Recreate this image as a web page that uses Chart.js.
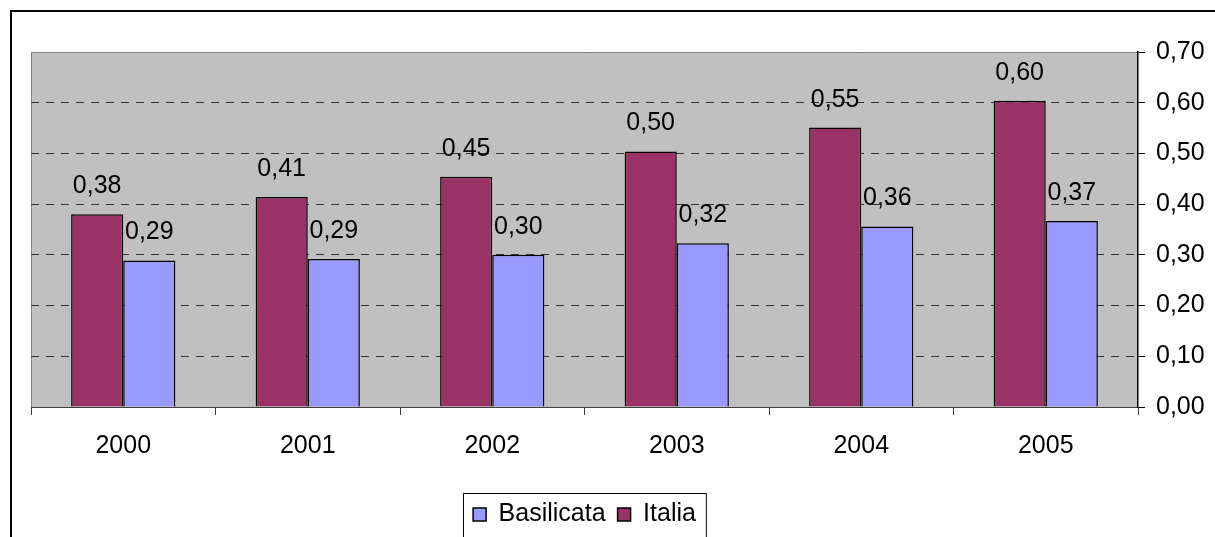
<!DOCTYPE html>
<html>
<head>
<meta charset="utf-8">
<script src="https://cdn.jsdelivr.net/npm/chart.js@4/dist/chart.umd.min.js"></script>
<style>
  html, body { margin: 0; padding: 0; background: #fff; }
  canvas { display: block; }
</style>
</head>
<body>
<canvas id="grafico" width="1215" height="537"></canvas>
<script>
var anni = ['2000', '2001', '2002', '2003', '2004', '2005'];
var italia = [0.380, 0.414, 0.454, 0.504, 0.551, 0.604];
var basilicata = [0.289, 0.292, 0.300, 0.323, 0.356, 0.367];
var yMin = 0, yMax = 0.7, yStep = 0.1;

var FONT = '"Liberation Sans", Arial, sans-serif';

function virgola(v) {
  return v.toFixed(2).replace('.', ',');
}

// sfondo grigio dell'area del grafico + cornice esterna
var sfondo = {
  id: 'sfondo',
  beforeDraw: function(chart) {
    var ctx = chart.ctx, a = chart.chartArea;
    ctx.save();
    ctx.fillStyle = '#C0C0C0';
    ctx.fillRect(a.left, a.top, a.right - a.left, a.bottom - a.top);
    ctx.strokeStyle = '#808080';
    ctx.lineWidth = 1;
    ctx.beginPath();
    ctx.moveTo(a.left + 0.5, a.bottom);
    ctx.lineTo(a.left + 0.5, a.top + 0.5);
    ctx.lineTo(a.right, a.top + 0.5);
    ctx.stroke();
    ctx.strokeStyle = '#000';
    ctx.lineWidth = 2;
    ctx.beginPath();
    ctx.moveTo(11, 540);
    ctx.lineTo(11, 11);
    ctx.lineTo(1220, 11);
    ctx.stroke();
    ctx.restore();
  }
};

// etichette dei valori sopra le barre
var etichette = {
  id: 'etichette',
  afterDatasetsDraw: function(chart) {
    var ctx = chart.ctx;
    ctx.save();
    ctx.font = '25px ' + FONT;
    ctx.fillStyle = '#000';
    ctx.textAlign = 'center';
    ctx.textBaseline = 'alphabetic';
    chart.data.datasets.forEach(function(ds, i) {
      chart.getDatasetMeta(i).data.forEach(function(bar, j) {
        ctx.fillText(virgola(ds.data[j]), bar.x, bar.y - 21);
      });
    });
    ctx.restore();
  }
};

// legenda centrata sotto l'area del grafico, con cornice
var cornice = {
  id: 'cornice',
  afterLayout: function(chart) {
    var lg = chart.legend;
    var a = chart.chartArea;
    var shift = (a.left + a.right) / 2 - (lg.left + lg.right) / 2;
    lg.left += shift;
    lg.right += shift;
  },
  afterDraw: function(chart) {
    var hb = chart.legend.legendHitBoxes;
    if (!hb || !hb.length) return;
    var ctx = chart.ctx;
    var first = hb[0], last = hb[hb.length - 1];
    var cy = first.top + first.height / 2;
    var left = first.left - 10, right = last.left + last.width + 10;
    var top = Math.round(cy - 22) + 0.5;
    ctx.save();
    ctx.strokeStyle = '#000';
    ctx.lineWidth = 1;
    ctx.strokeRect(Math.round(left) + 0.5, top, right - left, 560 - top);
    ctx.restore();
  }
};

new Chart(document.getElementById('grafico'), {
  type: 'bar',
  data: {
    labels: anni,
    datasets: [{
      label: 'Italia',
      data: italia,
      backgroundColor: '#993366',
      borderColor: '#000',
      borderWidth: 1.5
    }, {
      label: 'Basilicata',
      data: basilicata,
      backgroundColor: '#9999FF',
      borderColor: '#000',
      borderWidth: 1.5
    }]
  },
  options: {
    responsive: false,
    animation: false,
    devicePixelRatio: 1,
    layout: { padding: { left: 31, right: 7, top: 52, bottom: 0 } },
    datasets: {
      bar: { categoryPercentage: 0.565, barPercentage: 1 }
    },
    plugins: {
      tooltip: { enabled: false },
      legend: {
        position: 'bottom',
        reverse: true,
        labels: {
          boxWidth: 13,
          boxHeight: 13,
          padding: 12,
          color: '#000',
          font: { size: 25, family: FONT }
        }
      }
    },
    scales: {
      x: {
        afterFit: function(scale) { scale.height += 13; },
        grid: {
          display: true,
          offset: true,
          drawOnChartArea: false,
          color: '#404040',
          tickLength: 8
        },
        border: { display: true, color: '#404040', width: 1 },
        ticks: {
          color: '#000',
          padding: 16,
          font: { size: 25, family: FONT }
        }
      },
      y: {
        position: 'right',
        min: yMin,
        max: yMax,
        afterFit: function(scale) { scale.width = 70; },
        ticks: {
          stepSize: yStep,
          color: '#000',
          padding: 11,
          font: { size: 25, family: FONT },
          callback: function(v) { return virgola(v); }
        },
        grid: {
          color: function(c) {
            var v = c.tick ? c.tick.value : 0;
            if (v <= 0.0001 || v >= yMax - 0.0001) return 'rgba(0,0,0,0)';
            return '#333';
          },
          tickColor: '#000',
          tickLength: 7,
          lineWidth: 1
        },
        border: { display: true, color: '#000', width: 1.5, dash: [8, 7] }
      }
    }
  },
  plugins: [sfondo, etichette, cornice]
});
</script>
</body>
</html>
